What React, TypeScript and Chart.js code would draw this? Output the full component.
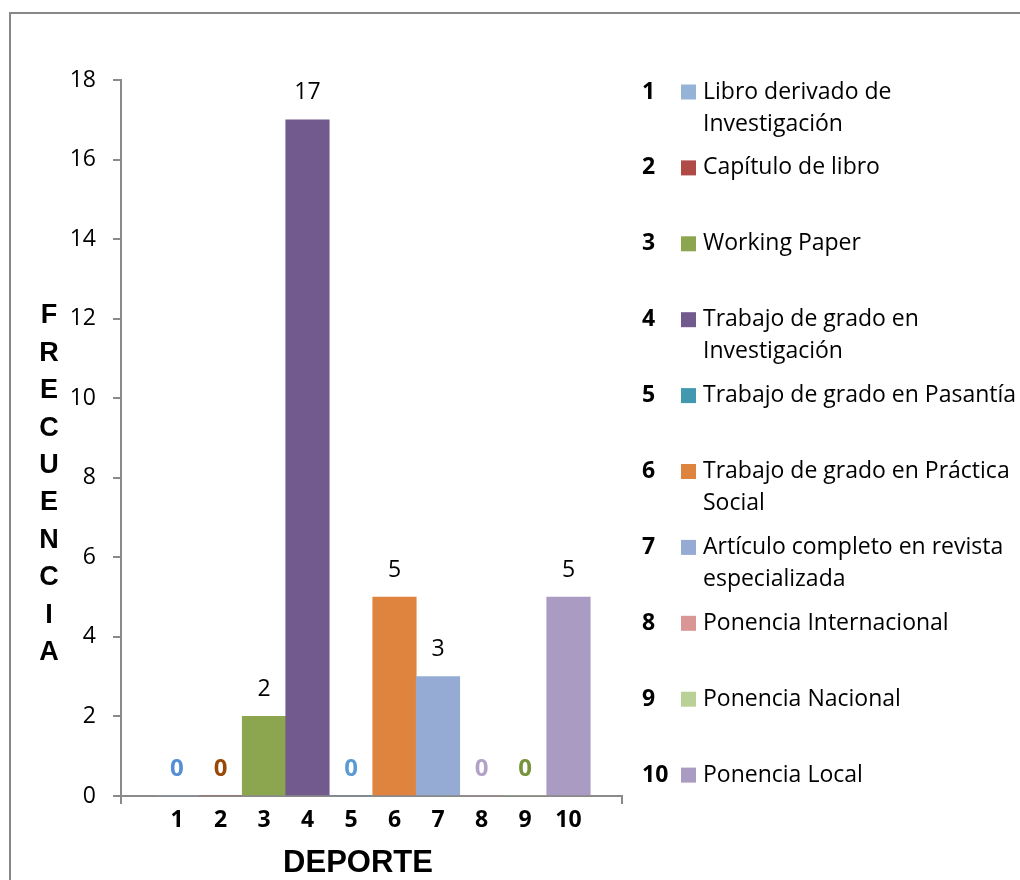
import React, { useEffect, useRef } from "react";
import { Chart, registerables } from "chart.js";

Chart.register(...registerables);

const categories = ["1", "2", "3", "4", "5", "6", "7", "8", "9", "10"];
const values = [0, 0, 2, 17, 0, 5, 3, 0, 0, 5];
const seriesNames = [
  "Libro derivado de\nInvestigación",
  "Capítulo de libro",
  "Working Paper",
  "Trabajo de grado en\nInvestigación",
  "Trabajo de grado en Pasantía",
  "Trabajo de grado en Práctica\nSocial",
  "Artículo completo en revista\nespecializada",
  "Ponencia Internacional",
  "Ponencia Nacional",
  "Ponencia Local",
];
const barColors = [
  "#95B3D7", "#B04A47", "#8BA64F", "#725A8E", "#4299AF",
  "#DE843E", "#95ABD4", "#D99694", "#B9D196", "#AA9BC2",
];
const zeroLabelColors = [
  "#558ED5", "#984807", "#8BA64F", "#725A8E", "#5B9BD5",
  "#DE843E", "#95ABD4", "#B3A2C7", "#77933C", "#AA9BC2",
];
const yTicks = [0, 2, 4, 6, 8, 10, 12, 14, 16, 18];
const yTitle = "FRECUENCIA";
const xTitle = "DEPORTE";

const X_MIN = -0.287;
const X_MAX = 11.23;
const AXIS_COLOR = "#8a8a8a";
const FONT = "Open Sans";

const labelsPlugin = {
  id: "valueLabels",
  afterDatasetsDraw(chart: any) {
    const ctx = chart.ctx;
    const meta = chart.getDatasetMeta(0);
    ctx.save();
    ctx.textAlign = "center";
    ctx.textBaseline = "middle";
    meta.data.forEach((el: any, i: number) => {
      const v = values[i];
      if (v === 0) {
        ctx.font = `bold 24px ${FONT}`;
        ctx.fillStyle = zeroLabelColors[i];
      } else {
        ctx.font = `23px ${FONT}`;
        ctx.fillStyle = "#000";
      }
      ctx.fillText(String(v), el.x, el.y - 27);
    });
    ctx.restore();
  },
};

const decorPlugin = {
  id: "decor",
  afterDraw(chart: any) {
    const ctx = chart.ctx;
    const area = chart.chartArea;
    ctx.save();
    // vertical y-axis title
    ctx.font = `bold 27px "Liberation Sans"`;
    ctx.fillStyle = "#000";
    ctx.textAlign = "center";
    ctx.textBaseline = "middle";
    yTitle.split("").forEach((ch, i) => {
      ctx.fillText(ch, 41, area.top + 236 + i * 37.4);
    });
    // x-axis title
    ctx.font = `bold 31px "Liberation Sans"`;
    ctx.fillText(xTitle, area.left + 237, area.bottom + 67);
    // legend
    const startY = area.top + 12;
    const step = 75.9;
    seriesNames.forEach((name, i) => {
      const y = startY + i * step;
      ctx.font = `bold 23px ${FONT}`;
      ctx.fillStyle = "#000";
      ctx.textAlign = "left";
      ctx.textBaseline = "middle";
      ctx.fillText(categories[i], 634, y);
      ctx.fillStyle = barColors[i];
      ctx.fillRect(673, y - 7.5, 15, 15);
      ctx.font = `23px ${FONT}`;
      ctx.fillStyle = "#000";
      name.split("\n").forEach((line, j) => {
        ctx.fillText(line, 695, y + j * 32);
      });
    });
    ctx.restore();
  },
};

export default function App() {
  const ref = useRef<HTMLCanvasElement | null>(null);

  useEffect(() => {
    if (!ref.current) return;
    const chart = new Chart(ref.current, {
      type: "bar",
      data: {
        datasets: [
          {
            label: "Frecuencia",
            data: values.map((v, i) => ({ x: Number(categories[i]), y: v })),
            backgroundColor: barColors,
            borderWidth: 0,
            categoryPercentage: 1,
            barPercentage: 1,
          },
        ],
      },
      options: {
        animation: false,
        responsive: false,
        devicePixelRatio: 1,
        layout: { padding: { left: 0, top: 72, right: 398, bottom: 0 } },
        plugins: {
          legend: { display: false },
          tooltip: { enabled: false },
        },
        scales: {
          x: {
            type: "linear",
            min: X_MIN,
            max: X_MAX,
            offset: false,
            afterFit(scale: any) {
              scale.height = 84;
            },
            afterBuildTicks(scale: any) {
              scale.ticks = [X_MIN, ...categories.map((c) => Number(c)), X_MAX].map((v) => ({ value: v }));
            },
            ticks: {
              autoSkip: false,
              maxRotation: 0,
              padding: 3,
              color: "#000",
              font: { family: FONT, size: 23, weight: "bold" },
              callback(value: any) {
                const s = String(value);
                return categories.includes(s) ? s : "";
              },
            },
            grid: {
              offset: false,
              drawOnChartArea: false,
              drawTicks: true,
              tickLength: 8,
              lineWidth: 2,
              color(ctx: any) {
                const v = ctx.tick ? ctx.tick.value : null;
                return v === X_MIN || v === X_MAX ? AXIS_COLOR : "rgba(0,0,0,0)";
              },
            },
            border: { display: true, color: AXIS_COLOR, width: 2 },
          },
          y: {
            min: 0,
            max: 18,
            afterFit(scale: any) {
              scale.width = 113;
            },
            afterBuildTicks(scale: any) {
              scale.ticks = yTicks.map((v) => ({ value: v }));
            },
            ticks: {
              padding: 17,
              color: "#000",
              font: { family: FONT, size: 23 },
            },
            grid: {
              drawOnChartArea: false,
              drawTicks: true,
              tickLength: 8,
              lineWidth: 2,
              color: AXIS_COLOR,
            },
            border: { display: true, color: AXIS_COLOR, width: 2 },
          },
        },
      },
      plugins: [labelsPlugin, decorPlugin],
    } as any);
    return () => chart.destroy();
  }, []);

  return (
    <div
      style={{
        position: "fixed",
        left: 0,
        top: 0,
        width: 1020,
        height: 880,
        overflow: "hidden",
        background: "#fff",
      }}
    >
      <div
        style={{
          position: "absolute",
          left: 9,
          top: 12,
          width: 2000,
          height: 2000,
          border: "2px solid #878787",
        }}
      />
      <canvas
        ref={ref}
        width={1012}
        height={872}
        style={{ position: "absolute", left: 8, top: 8, width: 1012, height: 872 }}
      />
    </div>
  );
}
